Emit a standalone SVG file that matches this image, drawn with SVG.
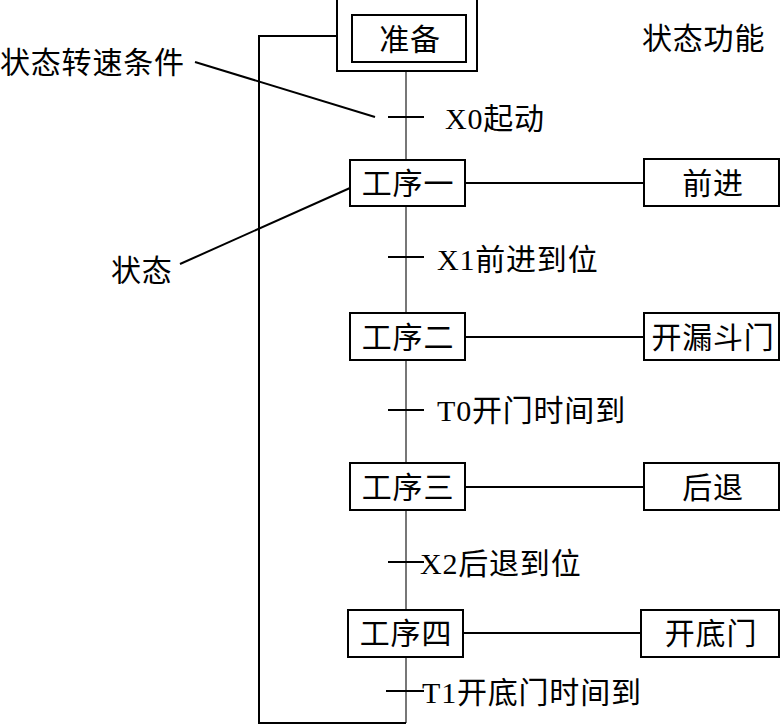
<svg xmlns="http://www.w3.org/2000/svg" width="780" height="725" viewBox="0 0 780 725">
<style>
text{font-family:"Liberation Serif","Noto Sans CJK SC",serif;font-size:30px;letter-spacing:0.8px;fill:#000;dominant-baseline:central}
.c{text-anchor:middle}
.box{fill:#fff;stroke:#000;stroke-width:2}
.ln{stroke:#000;stroke-width:2;fill:none}
.main{stroke:#777;stroke-width:2;fill:none}
</style>
<rect width="780" height="725" fill="#fff"/>
<g id="connectors">
<line class="main" x1="406" y1="71" x2="406" y2="723"/>
<polyline class="ln" points="406,723 259,723 259,36 337,36"/>
<line class="ln" x1="465" y1="183" x2="644" y2="183"/>
<line class="ln" x1="465" y1="337" x2="644" y2="337"/>
<line class="ln" x1="465" y1="487" x2="644" y2="487"/>
<line class="ln" x1="463" y1="633" x2="641" y2="633"/>
<line class="ln" x1="388" y1="117" x2="424" y2="117"/>
<line class="ln" x1="388" y1="257" x2="424" y2="257"/>
<line class="ln" x1="388" y1="410" x2="424" y2="410"/>
<line class="ln" x1="388" y1="562" x2="424" y2="562"/>
<line class="ln" x1="386" y1="691" x2="424" y2="691"/>
<line class="ln" x1="195" y1="62" x2="375" y2="117"/>
<line class="ln" x1="180" y1="264" x2="350" y2="188"/>
</g>
<g id="labels">
<text x="0" y="62">状态转速条件</text>
<text x="111" y="270">状态</text>
<text x="642" y="38">状态功能</text>
<text x="445" y="118">X0起动</text>
<text x="437" y="259">X1前进到位</text>
<text x="437" y="410">T0开门时间到</text>
<text x="420" y="563">X2后退到位</text>
<text x="422" y="692">T1开底门时间到</text>
</g>
<g id="node-zhunbei">
<rect class="box" x="337" y="-5" width="140" height="76"/>
<rect class="box" x="352" y="15" width="114" height="47"/>
<text class="c" x="410" y="39">准备</text>
</g>
<g id="node-step1">
<rect class="box" x="350" y="160" width="115" height="46"/>
<text class="c" x="408" y="183">工序一</text>
</g>
<g id="node-step2">
<rect class="box" x="350" y="313" width="115" height="47"/>
<text class="c" x="408" y="337">工序二</text>
</g>
<g id="node-step3">
<rect class="box" x="350" y="463" width="115" height="47"/>
<text class="c" x="408" y="487">工序三</text>
</g>
<g id="node-step4">
<rect class="box" x="348" y="610" width="115" height="47"/>
<text class="c" x="406" y="633">工序四</text>
</g>
<g id="node-qianjin">
<rect class="box" x="644" y="159" width="135" height="47"/>
<text class="c" x="713" y="183">前进</text>
</g>
<g id="node-loudoumen">
<rect class="box" x="644" y="313" width="135" height="47"/>
<text class="c" x="713" y="337">开漏斗门</text>
</g>
<g id="node-houtui">
<rect class="box" x="644" y="463" width="135" height="47"/>
<text class="c" x="713" y="487">后退</text>
</g>
<g id="node-didimen">
<rect class="box" x="641" y="610" width="138" height="47"/>
<text class="c" x="711" y="633">开底门</text>
</g>
</svg>
